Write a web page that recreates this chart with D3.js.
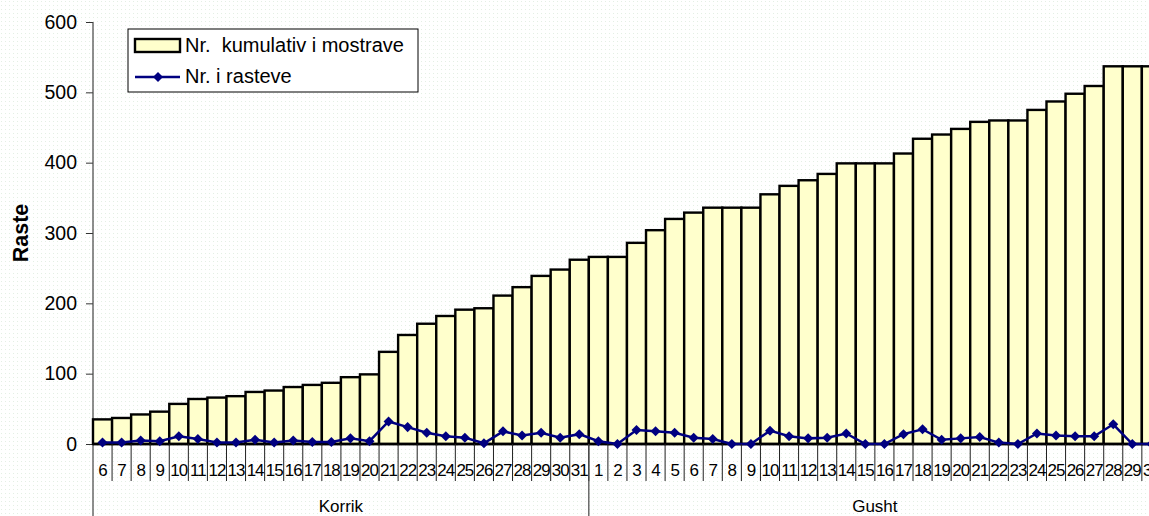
<!DOCTYPE html>
<html lang="sq">
<head>
<meta charset="UTF-8">
<title>Raste</title>
<script src="https://d3js.org/d3.v7.min.js"></script>
<style>
    body { margin: 0; background: #fff; overflow: hidden; }
    svg { display: block; font-family: "Liberation Sans", Arial, sans-serif; }
    .keep { white-space: pre; }
</style>
</head>
<body>
<div id="chart"></div>
<script>
    // data
    const months = ["Korrik", "Gusht"]
    const korrikDays = [6,7,8,9,10,11,12,13,14,15,16,17,18,19,20,21,22,23,24,25,26,27,28,29,30,31]
    const gushtDays = [1,2,3,4,5,6,7,8,9,10,11,12,13,14,15,16,17,18,19,20,21,22,23,24,25,26,27,28,29,30]
    const korrikCumul = [35,37,42,46,57,64,66,68,74,76,81,84,87,95,99,131,155,171,182,191,193,211,223,239,248,262]
    const gushtCumul = [266,266,286,304,320,329,336,336,336,355,367,375,384,399,399,399,413,434,440,448,458,460,460,475,487,498,509,537,537,537]
    const korrikCases = [2,2,5,4,11,7,2,2,6,2,5,3,3,8,4,32,24,16,11,9,1,18,12,16,9,14]
    const gushtCases = [4,0,20,18,16,9,7,0,0,19,11,8,9,15,0,0,14,21,6,8,10,2,0,15,12,11,11,28,0,0]
    const yTicks = [0,100,200,300,400,500,600]
    const seriesNames = ["Nr.  kumulativ i mostrave", "Nr. i rasteve"]

    const rows = []
    korrikDays.forEach((d, i) => rows.push({key: "K" + d, day: d, month: months[0], cumul: korrikCumul[i], cases: korrikCases[i]}))
    gushtDays.forEach((d, i) => rows.push({key: "G" + d, day: d, month: months[1], cumul: gushtCumul[i], cases: gushtCases[i]}))

    const W = 1149, H = 516
    const plotLeft = 93, plotTop = 22, baseY = 444
    const step = 19.07
    const svg = d3.select("#chart").append("svg")
        .attr("width", W).attr("height", H)

    // faint dotted background
    const defs = svg.append("defs")
    const pat = defs.append("pattern").attr("id", "dots")
        .attr("width", 4).attr("height", 4).attr("patternUnits", "userSpaceOnUse")
    pat.append("rect").attr("x", 1).attr("y", 1).attr("width", 1).attr("height", 1).attr("fill", "#e4efe4")
    svg.append("rect").attr("width", W).attr("height", H).attr("fill", "url(#dots)")

    const x = d3.scaleBand()
        .domain(rows.map(r => r.key))
        .range([plotLeft, plotLeft + step * rows.length])
        .padding(0)
    const y = d3.scaleLinear().domain([0, 600]).range([baseY, plotTop])

    // y axis
    const yAxis = svg.append("g")
        .attr("transform", `translate(${plotLeft},0)`)
        .call(d3.axisLeft(y).tickValues(yTicks).tickSize(7).tickPadding(9))
    yAxis.select(".domain").remove()
    yAxis.selectAll(".tick line").attr("stroke", "#333")
    yAxis.selectAll("text").attr("font-size", 19.5).attr("fill", "#000")
    svg.append("line")
        .attr("x1", plotLeft).attr("x2", plotLeft)
        .attr("y1", plotTop).attr("y2", H)
        .attr("stroke", "#444").attr("stroke-width", 1.2)

    svg.append("text")
        .attr("transform", `translate(28,${(plotTop + baseY) / 2}) rotate(-90)`)
        .attr("text-anchor", "middle")
        .attr("font-size", 21.5).attr("font-weight", "bold")
        .text("Raste")

    // bars
    svg.append("g").selectAll("rect")
        .data(rows)
        .join("rect")
        .attr("x", d => x(d.key))
        .attr("y", d => y(d.cumul))
        .attr("width", x.bandwidth())
        .attr("height", d => y(0) - y(d.cumul))
        .attr("fill", "#ffffcc")
        .attr("stroke", "#000")
        .attr("stroke-width", 2.4)

    // x baseline
    svg.append("line")
        .attr("x1", plotLeft).attr("x2", W)
        .attr("y1", baseY).attr("y2", baseY)
        .attr("stroke", "#000").attr("stroke-width", 2.4)

    // line series
    const cx = d => x(d.key) + x.bandwidth() / 2
    svg.append("path")
        .datum(rows)
        .attr("fill", "none")
        .attr("stroke", "#000080")
        .attr("stroke-width", 2.5)
        .attr("d", d3.line().x(cx).y(d => y(d.cases)))
    svg.append("g").selectAll("path")
        .data(rows)
        .join("path")
        .attr("d", d3.symbol(d3.symbolDiamond2, 64))
        .attr("transform", d => `translate(${cx(d)},${y(d.cases)})`)
        .attr("fill", "#000080")

    // category axis: day ticks and labels
    const cat = svg.append("g")
    cat.selectAll("line.day")
        .data(rows)
        .join("line")
        .attr("class", "day")
        .attr("x1", d => x(d.key) + x.bandwidth()).attr("x2", d => x(d.key) + x.bandwidth())
        .attr("y1", baseY).attr("y2", 481)
        .attr("stroke", "#222").attr("stroke-width", 1)
    cat.selectAll("text.day")
        .data(rows)
        .join("text")
        .attr("class", "day")
        .attr("x", cx)
        .attr("y", 476)
        .attr("text-anchor", "middle")
        .attr("font-size", 17)
        .attr("letter-spacing", -1)
        .text(d => d.day)

    // month groups
    const groups = months.map(m => {
        const keys = rows.filter(r => r.month === m).map(r => r.key)
        return {name: m, x0: x(keys[0]), x1: x(keys[keys.length - 1]) + x.bandwidth()}
    })
    cat.selectAll("line.month")
        .data(groups)
        .join("line")
        .attr("class", "month")
        .attr("x1", d => d.x1).attr("x2", d => d.x1)
        .attr("y1", baseY).attr("y2", H)
        .attr("stroke", "#444").attr("stroke-width", 1.2)
    cat.selectAll("text.month")
        .data(groups)
        .join("text")
        .attr("class", "month")
        .attr("x", d => (d.x0 + d.x1) / 2)
        .attr("y", 512)
        .attr("text-anchor", "middle")
        .attr("font-size", 17)
        .text(d => d.name)

    // legend
    const lg = svg.append("g").attr("transform", "translate(128,29)")
    lg.append("rect").attr("width", 290).attr("height", 63)
        .attr("fill", "#fff").attr("stroke", "#000").attr("stroke-width", 1)
    lg.append("rect").attr("x", 7).attr("y", 10).attr("width", 45).attr("height", 13)
        .attr("fill", "#ffffcc").attr("stroke", "#000").attr("stroke-width", 2.4)
    lg.append("text").attr("class", "keep").attr("x", 57).attr("y", 23).attr("font-size", 20).text(seriesNames[0])
    lg.append("line").attr("x1", 7).attr("x2", 52).attr("y1", 48).attr("y2", 48)
        .attr("stroke", "#000080").attr("stroke-width", 2.5)
    lg.append("path").attr("d", d3.symbol(d3.symbolDiamond2, 64))
        .attr("transform", "translate(30,48)").attr("fill", "#000080")
    lg.append("text").attr("class", "keep").attr("x", 57).attr("y", 54).attr("font-size", 20).text(seriesNames[1])
</script>
</body>
</html>
